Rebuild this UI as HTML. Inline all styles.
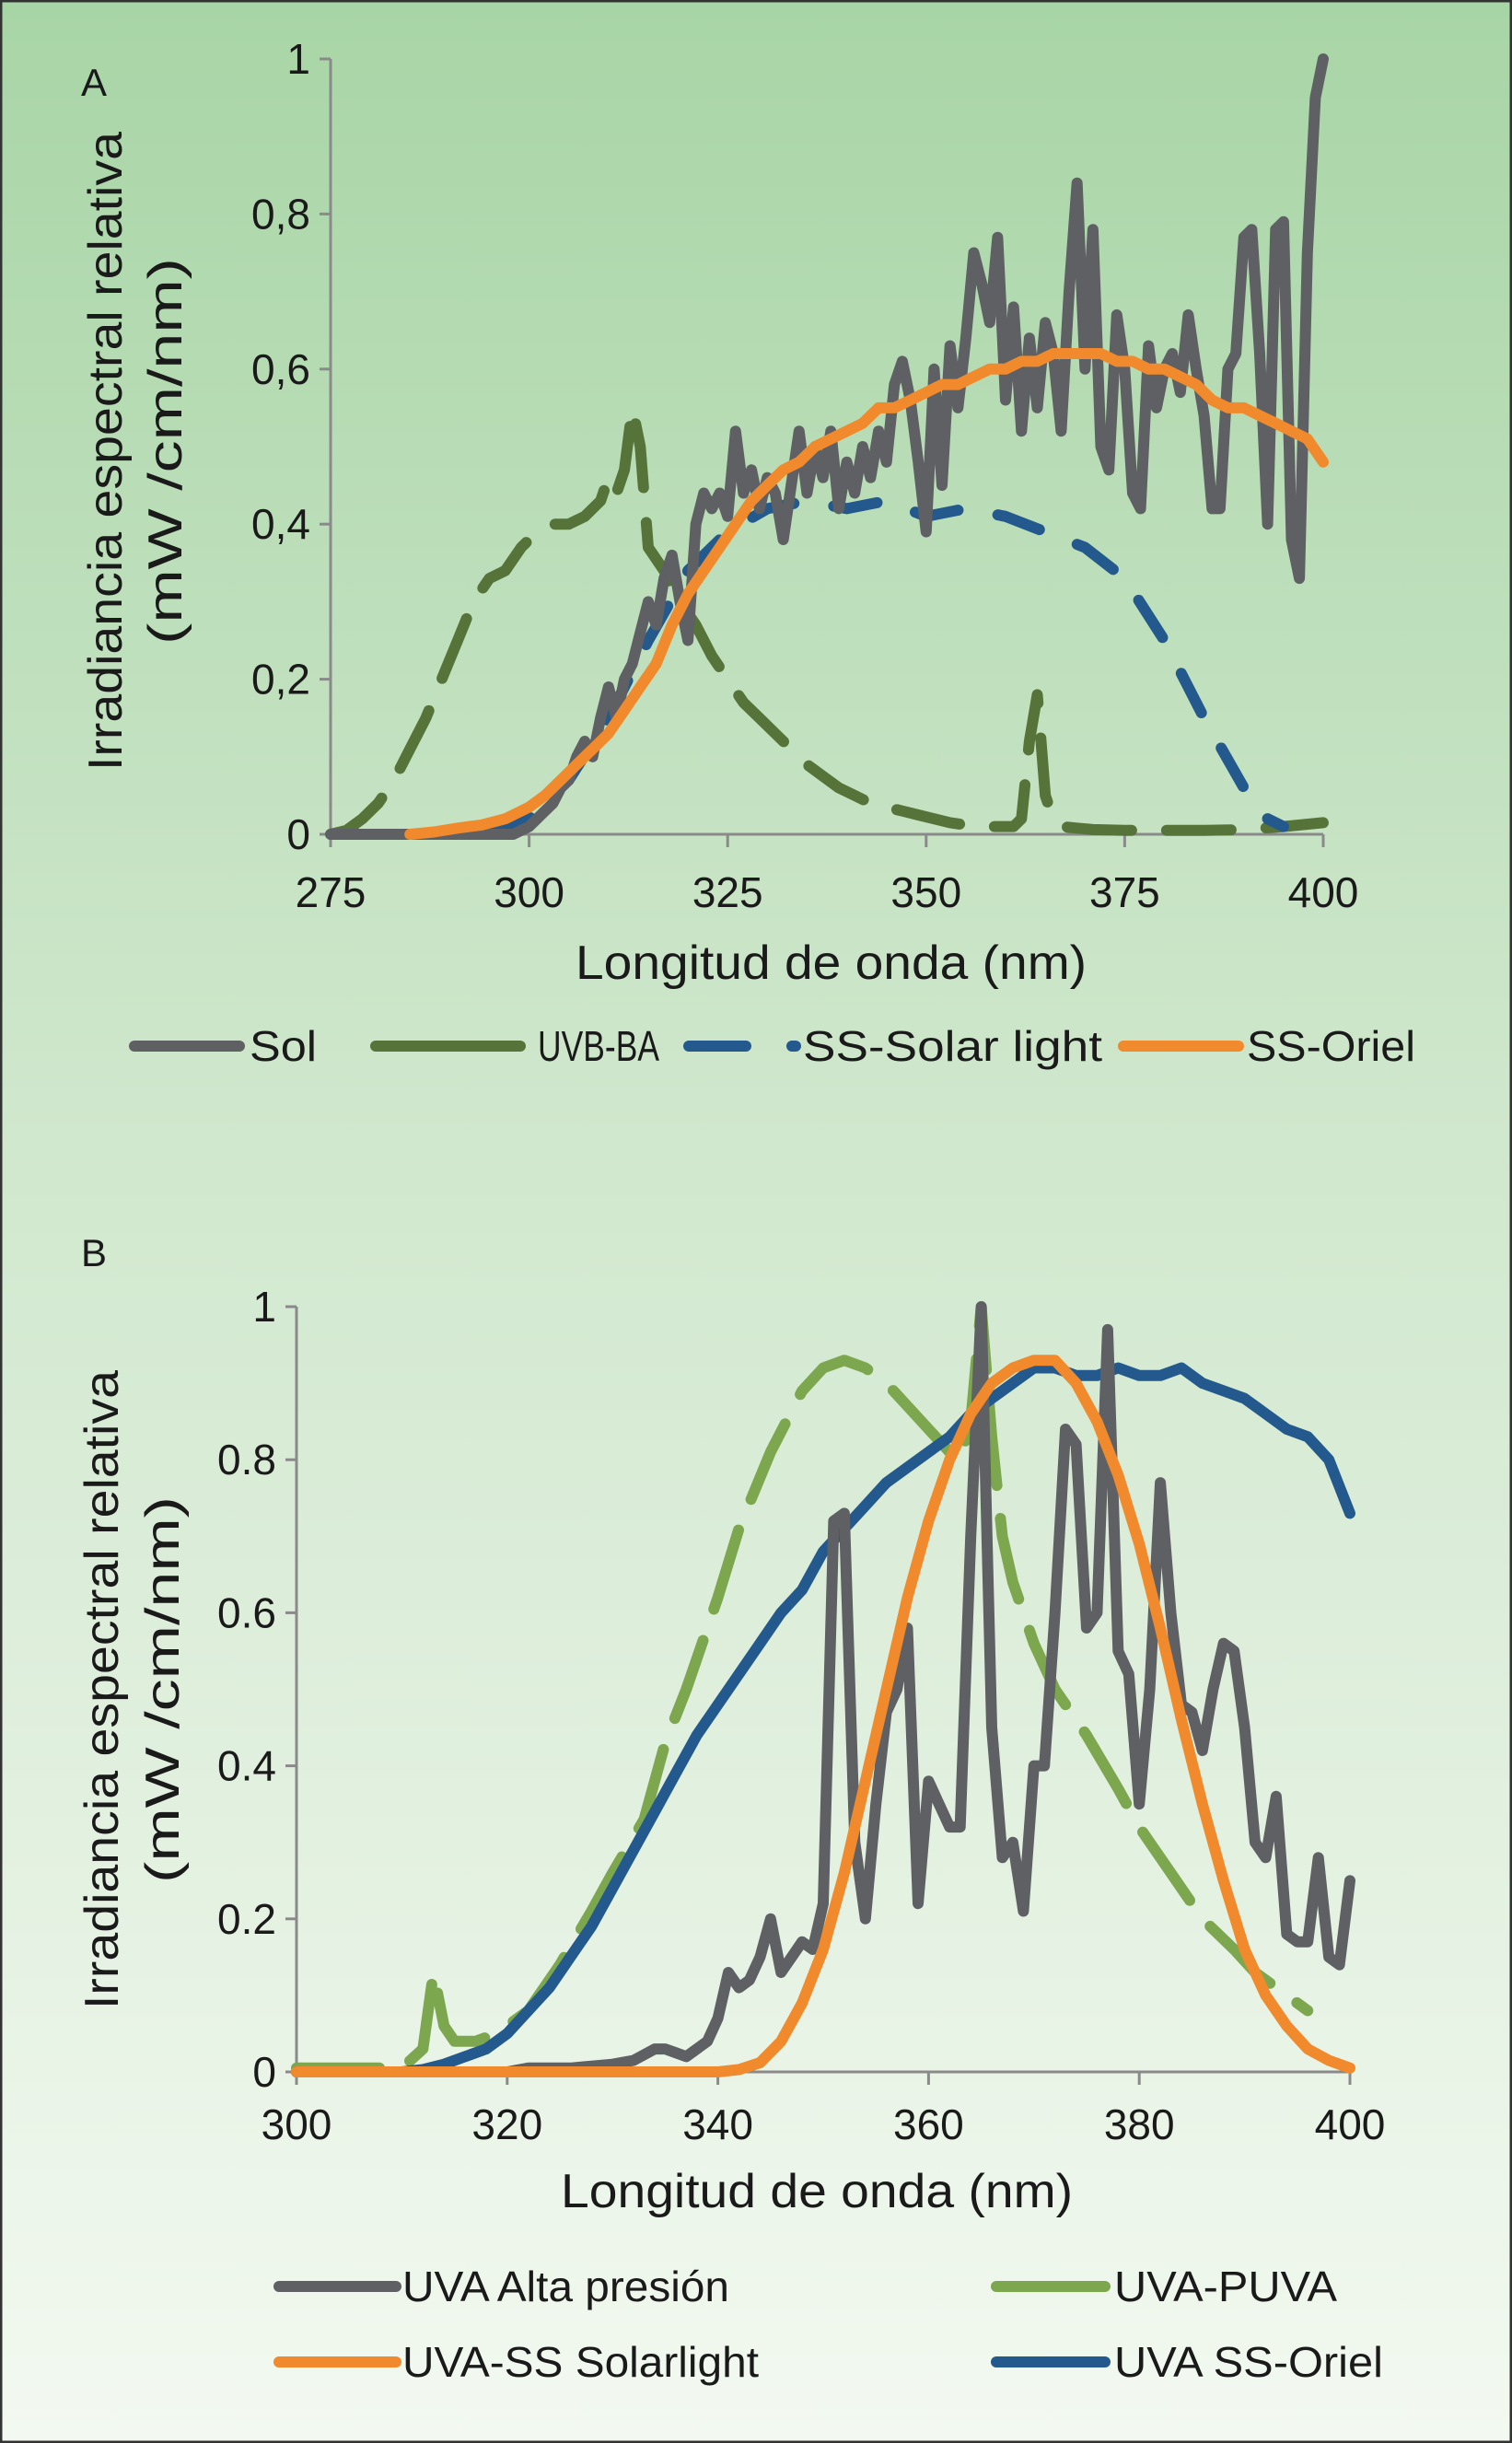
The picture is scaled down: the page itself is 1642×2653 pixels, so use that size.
<!DOCTYPE html>
<html><head><meta charset="utf-8"><style>
html,body{margin:0;padding:0}
body{width:1642px;height:2653px;overflow:hidden}
svg{display:block}
text{font-family:"Liberation Sans",sans-serif;fill:#1a1a1a}
</style></head><body>
<svg id="fig" width="1642" height="2653" viewBox="0 0 1642 2653">
<defs><linearGradient id="bg" x1="0" y1="0" x2="0" y2="1">
<stop offset="0" stop-color="#a8d5a6"/><stop offset="0.45" stop-color="#cfe7cc"/><stop offset="1" stop-color="#f3f9f1"/></linearGradient></defs>
<rect x="1" y="1" width="1640" height="2651" fill="url(#bg)" stroke="#333" stroke-width="3"/>
<g id="chartA"></g>
<g id="chartB"></g>
</svg>
<script>
// ---------- Chart A data ----------
const aXTicks=[275,300,325,350,375,400];
const aYTicks=[0,0.2,0.4,0.6,0.8,1];
const aYTickLabels=["0","0,2","0,4","0,6","0,8","1"];
const solX=[275,298,300,301,302,303,304,305,306,307,308,309,310,311,312,313,314,315,316,317,318,319,320,321,322,323,324,325,326,327,328,329,330,331,332,333,334,335,336,337,338,339,340,341,342,343,344,345,346,347,348,349,350,351,352,353,354,355,356,357,358,359,360,361,362,363,364,365,366,367,368,369,370,371,372,373,374,375,376,377,378,379,380,381,382,383,384,385,386,387,388,389,390,391,392,393,394,395,396,397,398,399,400];
const solY=[0,0,0.01,0.02,0.03,0.04,0.06,0.07,0.1,0.12,0.1,0.15,0.19,0.15,0.2,0.22,0.26,0.3,0.27,0.33,0.36,0.3,0.25,0.4,0.44,0.42,0.44,0.41,0.52,0.44,0.47,0.42,0.46,0.44,0.38,0.45,0.52,0.44,0.5,0.46,0.52,0.42,0.48,0.44,0.5,0.46,0.52,0.48,0.58,0.61,0.56,0.48,0.39,0.6,0.45,0.63,0.55,0.64,0.75,0.71,0.66,0.77,0.56,0.68,0.52,0.64,0.55,0.66,0.62,0.52,0.7,0.84,0.6,0.78,0.5,0.47,0.67,0.6,0.44,0.42,0.63,0.55,0.6,0.62,0.57,0.67,0.6,0.54,0.42,0.42,0.6,0.62,0.77,0.78,0.62,0.4,0.78,0.79,0.38,0.33,0.75,0.95,1.0];
const uvbX=[275,277,279,281,283,285,287,289,291,293,295,297,299,301,303,305,307,309,310,311,312,313,314,315,317,319,321,323,325,327,329,331,333,335,337,339,341,343,345,347,349,351,353,355,357,359,361,362,363,364,365,366,367,369,371,375,380,385,390,395,400];
const uvbY=[0,0.005,0.02,0.04,0.07,0.11,0.15,0.2,0.25,0.3,0.33,0.34,0.37,0.39,0.4,0.4,0.41,0.43,0.46,0.44,0.47,0.55,0.5,0.37,0.34,0.3,0.27,0.23,0.2,0.17,0.15,0.13,0.11,0.09,0.075,0.06,0.05,0.04,0.035,0.03,0.025,0.02,0.015,0.012,0.01,0.01,0.01,0.02,0.12,0.18,0.05,0.02,0.01,0.008,0.006,0.005,0.005,0.005,0.006,0.01,0.015];
const solarX=[295,300,305,310,315,320,325,330,335,340,345,350,355,360,365,370,375,380,385,390,393,395];
const solarY=[0,0.02,0.07,0.15,0.25,0.34,0.39,0.42,0.43,0.42,0.43,0.41,0.42,0.41,0.39,0.37,0.33,0.25,0.15,0.06,0.02,0.01];
const orielX=[285,288,291,294,297,300,302,304,306,308,310,312,314,316,318,320,322,324,326,328,330,332,334,336,338,340,342,344,346,348,350,352,354,356,358,360,362,364,366,368,370,372,374,376,378,380,382,384,386,388,390,392,394,396,398,400];
const orielY=[0,0.003,0.008,0.012,0.02,0.035,0.05,0.07,0.09,0.11,0.13,0.16,0.19,0.22,0.27,0.31,0.34,0.37,0.4,0.43,0.45,0.47,0.48,0.5,0.51,0.52,0.53,0.55,0.55,0.56,0.57,0.58,0.58,0.59,0.6,0.6,0.61,0.61,0.62,0.62,0.62,0.62,0.61,0.61,0.6,0.6,0.59,0.58,0.56,0.55,0.55,0.54,0.53,0.52,0.51,0.48];

// ---------- Chart B data ----------
const bXTicks=[300,320,340,360,380,400];
const bYTicks=[0,0.2,0.4,0.6,0.8,1];
const bYTickLabels=["0","0.2","0.4","0.6","0.8","1"];
const altaX=[300,320,322,326,330,332,334,335,336,337,338,339,340,341,342,343,344,345,346,347,348,349,350,351,352,353,354,355,356,357,358,359,360,361,362,363,364,365,366,367,368,369,370,371,372,373,374,375,376,377,378,379,380,381,382,383,384,385,386,387,388,389,390,391,392,393,394,395,396,397,398,399,400];
const altaY=[0,0,0.005,0.005,0.01,0.015,0.03,0.03,0.025,0.02,0.03,0.04,0.07,0.13,0.11,0.12,0.15,0.2,0.13,0.15,0.17,0.16,0.22,0.72,0.73,0.3,0.2,0.35,0.47,0.5,0.58,0.22,0.38,0.35,0.32,0.32,0.7,1.0,0.45,0.28,0.3,0.21,0.4,0.4,0.6,0.84,0.82,0.58,0.6,0.97,0.55,0.52,0.35,0.5,0.77,0.6,0.48,0.47,0.42,0.5,0.56,0.55,0.45,0.3,0.28,0.36,0.18,0.17,0.17,0.28,0.15,0.14,0.25];
const puvaX=[300,310,312,313,314,315,317,319,322,325,328,330,333,335,337,340,342,345,348,350,352,354,356,358,360,362,363,364,365,366,367,368,370,372,375,378,380,383,386,389,391,393,396];
const puvaY=[0.005,0.005,0.03,0.13,0.06,0.04,0.04,0.05,0.08,0.14,0.21,0.26,0.33,0.43,0.5,0.62,0.71,0.81,0.89,0.92,0.93,0.92,0.9,0.87,0.84,0.81,0.8,0.85,1.0,0.83,0.7,0.64,0.56,0.5,0.44,0.37,0.32,0.26,0.2,0.16,0.13,0.11,0.08];
const ssSolX=[300,340,342,344,346,348,350,352,354,356,358,360,362,364,366,368,370,372,374,376,378,380,382,384,386,388,390,392,394,396,398,400];
const ssSolY=[0,0,0.003,0.012,0.04,0.09,0.16,0.26,0.38,0.5,0.62,0.72,0.8,0.86,0.9,0.92,0.93,0.93,0.9,0.85,0.78,0.69,0.58,0.46,0.35,0.25,0.16,0.1,0.06,0.03,0.015,0.005];
const ssOrX=[300,310,312,314,316,318,320,322,324,326,328,330,332,334,336,338,340,342,344,346,348,350,352,354,356,358,360,362,364,366,368,370,372,374,376,378,380,382,384,386,388,390,392,394,396,398,400];
const ssOrY=[0,0,0.003,0.01,0.02,0.03,0.05,0.08,0.11,0.15,0.19,0.24,0.29,0.34,0.39,0.44,0.48,0.52,0.56,0.6,0.63,0.68,0.71,0.74,0.77,0.79,0.81,0.83,0.86,0.88,0.9,0.92,0.92,0.91,0.91,0.92,0.91,0.91,0.92,0.9,0.89,0.88,0.86,0.84,0.83,0.8,0.73];

const NS="http://www.w3.org/2000/svg";
function mk(parent,tag,attrs){const e=document.createElementNS(NS,tag);for(const k in attrs)e.setAttribute(k,attrs[k]);parent.appendChild(e);return e;}

function drawChart(g,cfg){
  const sx=v=>cfg.x0+(v-cfg.xmin)/(cfg.xmax-cfg.xmin)*(cfg.x1-cfg.x0);
  const sy=v=>cfg.y0-(v-0)/(1-0)*(cfg.y0-cfg.y1);
  const ya=mk(g,'line',{x1:cfg.x0,y1:cfg.y1,x2:cfg.x0,y2:cfg.y0,stroke:'#8a8a8a','stroke-width':3});
  
  
  const xa=mk(g,'line',{x1:cfg.x0,y1:cfg.y0,x2:cfg.x1,y2:cfg.y0,stroke:'#8a8a8a','stroke-width':3});
  
  
  cfg.yt.forEach((v,i)=>{
    mk(g,'line',{x1:cfg.x0-12,y1:sy(v),x2:cfg.x0,y2:sy(v),stroke:'#8a8a8a','stroke-width':3});
    const t=mk(g,'text',{x:cfg.x0-22,y:sy(v)+16,'text-anchor':'end','font-size':46});
    t.textContent=cfg.ytl[i];
    
    
  });
  cfg.xt.forEach(v=>{
    mk(g,'line',{x1:sx(v),y1:cfg.y0,x2:sx(v),y2:cfg.y0+14,stroke:'#8a8a8a','stroke-width':3});
    const t=mk(g,'text',{x:sx(v),y:cfg.xly,'text-anchor':'middle','font-size':46});
    t.textContent=String(v);
    
    
  });
  cfg.series.forEach(s=>{
    const n=Math.min(s.x.length,s.y.length);
    let d='';
    for(let i=0;i<n;i++)d+=(i?'L':'M')+sx(s.x[i]).toFixed(1)+','+sy(Math.min(s.y[i],1.0)).toFixed(1);
    const p=mk(g,'path',{d:d,fill:'none',stroke:s.c,'stroke-width':12,'stroke-linejoin':'round','stroke-linecap':'round'});
    if(s.dash)p.setAttribute('stroke-dasharray',s.dash);
    
    
  });
}

const gA=document.getElementById('chartA'),gB=document.getElementById('chartB');
drawChart(gA,{x0:359,x1:1437,y0:906,y1:64,xmin:275,xmax:400,xt:aXTicks,yt:aYTicks,ytl:aYTickLabels,xly:985,
 series:[
  {x:uvbX,y:uvbY,c:'#56733a',dash:'70 38',name:'series-uvb-ba'},
  {x:solarX,y:solarY,c:'#23598c',dash:'48 44',name:'series-ss-solar-light'},
  {x:solX,y:solY,c:'#5e6064',name:'series-sol'},
  {x:orielX,y:orielY,c:'#f08a2c',name:'series-ss-oriel'}]});
drawChart(gB,{x0:322,x1:1466,y0:2250,y1:1419,xmin:300,xmax:400,xt:bXTicks,yt:bYTicks,ytl:bYTickLabels,xly:2323,
 series:[
  {x:puvaX,y:puvaY,c:'#7da74f',dash:'90 36',name:'series-uva-puva'},
  {x:ssOrX,y:ssOrY,c:'#23598c',name:'series-uva-ss-oriel'},
  {x:altaX,y:altaY,c:'#5e6064',name:'series-uva-alta-presion'},
  {x:ssSolX,y:ssSolY,c:'#f08a2c',name:'series-uva-ss-solarlight'}]});
</script>
<div style="position:absolute;left:0;top:0;width:1642px;height:2653px;pointer-events:none">
<svg width="1642" height="2653" viewBox="0 0 1642 2653">
<text x="88" y="104" font-size="42">A</text>
<text x="88" y="1375" font-size="42">B</text>
<g>
<text transform="translate(132,490) rotate(-90)" text-anchor="middle" font-size="52" textLength="694" lengthAdjust="spacingAndGlyphs">Irradiancia espectral relativa</text>
<text transform="translate(197,490) rotate(-90)" text-anchor="middle" font-size="52" textLength="420" lengthAdjust="spacingAndGlyphs">(mW /cm/nm)</text></g>
<g>
<text transform="translate(128,1835) rotate(-90)" text-anchor="middle" font-size="52" textLength="694" lengthAdjust="spacingAndGlyphs">Irradiancia espectral relativa</text>
<text transform="translate(194,1835) rotate(-90)" text-anchor="middle" font-size="52" textLength="420" lengthAdjust="spacingAndGlyphs">(mW /cm/nm)</text></g>
<text x="625" y="1063" font-size="52" textLength="555" lengthAdjust="spacingAndGlyphs">Longitud de onda (nm)</text>
<text x="609" y="2397" font-size="52" textLength="556" lengthAdjust="spacingAndGlyphs">Longitud de onda (nm)</text>
<g>
<line x1="146" y1="1136" x2="260" y2="1136" stroke="#5e6064" stroke-width="12" stroke-linecap="round"/>
<text x="271" y="1152" font-size="46" textLength="73" lengthAdjust="spacingAndGlyphs">Sol</text>
<line x1="408" y1="1136" x2="565" y2="1136" stroke="#56733a" stroke-width="12" stroke-linecap="round"/>
<text x="584" y="1152" font-size="46" textLength="132" lengthAdjust="spacingAndGlyphs">UVB-BA</text>
<line x1="748" y1="1136" x2="810" y2="1136" stroke="#23598c" stroke-width="12" stroke-linecap="round"/>
<line x1="860" y1="1136" x2="864" y2="1136" stroke="#23598c" stroke-width="12" stroke-linecap="round"/>
<text x="872" y="1152" font-size="46" textLength="325" lengthAdjust="spacingAndGlyphs">SS-Solar light</text>
<line x1="1220" y1="1136" x2="1345" y2="1136" stroke="#f08a2c" stroke-width="12" stroke-linecap="round"/>
<text x="1354" y="1152" font-size="46" textLength="183" lengthAdjust="spacingAndGlyphs">SS-Oriel</text></g>
<g>
<line x1="303" y1="2483" x2="430" y2="2483" stroke="#5e6064" stroke-width="12" stroke-linecap="round"/>
<text x="437" y="2499" font-size="46" textLength="355" lengthAdjust="spacingAndGlyphs">UVA Alta presión</text>
<line x1="1082" y1="2483" x2="1200" y2="2483" stroke="#7da74f" stroke-width="12" stroke-linecap="round"/>
<text x="1210" y="2499" font-size="46" textLength="242" lengthAdjust="spacingAndGlyphs">UVA-PUVA</text>
<line x1="303" y1="2565" x2="430" y2="2565" stroke="#f08a2c" stroke-width="12" stroke-linecap="round"/>
<text x="437" y="2581" font-size="46" textLength="387" lengthAdjust="spacingAndGlyphs">UVA-SS Solarlight</text>
<line x1="1082" y1="2565" x2="1200" y2="2565" stroke="#23598c" stroke-width="12" stroke-linecap="round"/>
<text x="1210" y="2581" font-size="46" textLength="292" lengthAdjust="spacingAndGlyphs">UVA SS-Oriel</text></g>
</svg></div>
</body></html>
